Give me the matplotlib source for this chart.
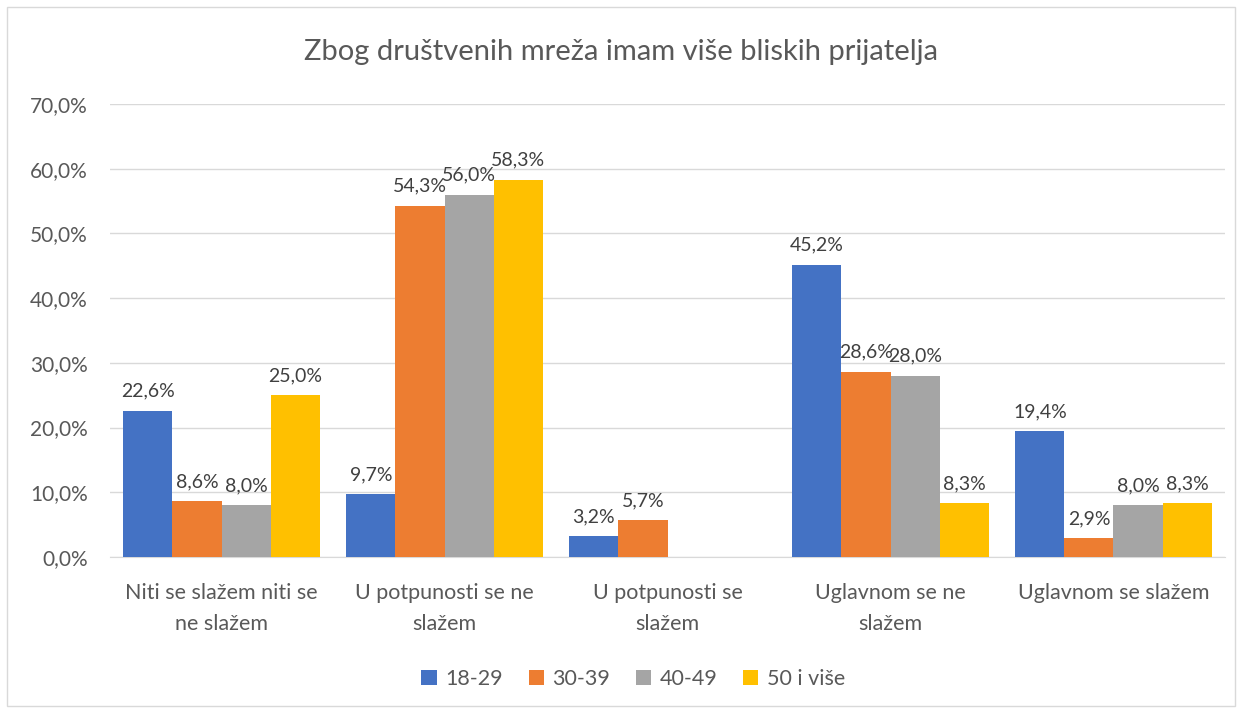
import numpy as np
import matplotlib
matplotlib.use("Agg")
import matplotlib.pyplot as plt
from matplotlib.patches import Rectangle

categories = ["Niti se slažem niti se\nne slažem", "U potpunosti se ne\nslažem",
              "U potpunosti se\nslažem", "Uglavnom se ne\nslažem", "Uglavnom se slažem"]
series_names = ["18-29", "30-39", "40-49", "50 i više"]
v_18_29 = [22.6, 9.7, 3.2, 45.2, 19.4]
v_30_39 = [8.6, 54.3, 5.7, 28.6, 2.9]
v_40_49 = [8.0, 56.0, np.nan, 28.0, 8.0]
v_50 = [25.0, 58.3, np.nan, 8.3, 8.3]
series = [v_18_29, v_30_39, v_40_49, v_50]
colors = ["#4472C4", "#ED7D31", "#A5A5A5", "#FFC000"]
title = "Zbog društvenih mreža imam više bliskih prijatelja"

plt.rcParams["font.family"] = ["Lato", "DejaVu Sans"]
txt = "#404040"

fig = plt.figure(figsize=(12.42, 7.13), dpi=100)
fig.patches.append(Rectangle((0.006, 0.01), 0.988, 0.98, transform=fig.transFigure,
                             fill=False, edgecolor="#D9D9D9", lw=1))
ax = fig.add_axes([0.0886, 0.2188, 0.8977, 0.6353])

x = np.arange(len(categories))
w = 0.22
for i, (vals, c, name) in enumerate(zip(series, colors, series_names)):
    pos = x + (i - 1.5) * w
    ax.bar(pos, vals, w, color=c, label=name, zorder=3)
    for p, v in zip(pos, vals):
        if np.isnan(v):
            continue
        ax.annotate(f"{v:.1f}%".replace(".", ","), (p, v), xytext=(0, 8),
                    textcoords="offset points", ha="center", va="bottom",
                    fontsize=14, color=txt)

ax.set_xlim(-0.5, len(categories) - 0.5)
ax.set_ylim(0, 70)
yt = np.arange(0, 71, 10)
ax.set_yticks(yt)
ax.set_yticklabels([f"{t:.1f}%".replace(".", ",") for t in yt], fontsize=15, color="#595959")
ax.set_xticks(x)
ax.set_xticklabels(categories, fontsize=15.5, color="#595959", linespacing=1.65)
ax.tick_params(axis="both", length=0)
ax.tick_params(axis="x", pad=19)
ax.tick_params(axis="y", pad=16)
ax.grid(axis="y", color="#D9D9D9", lw=1, zorder=0)
for s in ["top", "right", "left"]:
    ax.spines[s].set_visible(False)
ax.spines["bottom"].set_color("#D9D9D9")

fig.text(0.5, 0.927, title, ha="center", va="center", fontsize=21, color="#595959")
fig.legend(loc="center", bbox_to_anchor=(0.51, 0.047), ncol=4, frameon=False,
           fontsize=15.5, handlelength=0.7, handleheight=0.7, handletextpad=0.4,
           columnspacing=1.2, labelcolor="#595959")

fig.savefig("out.png", dpi=100)
